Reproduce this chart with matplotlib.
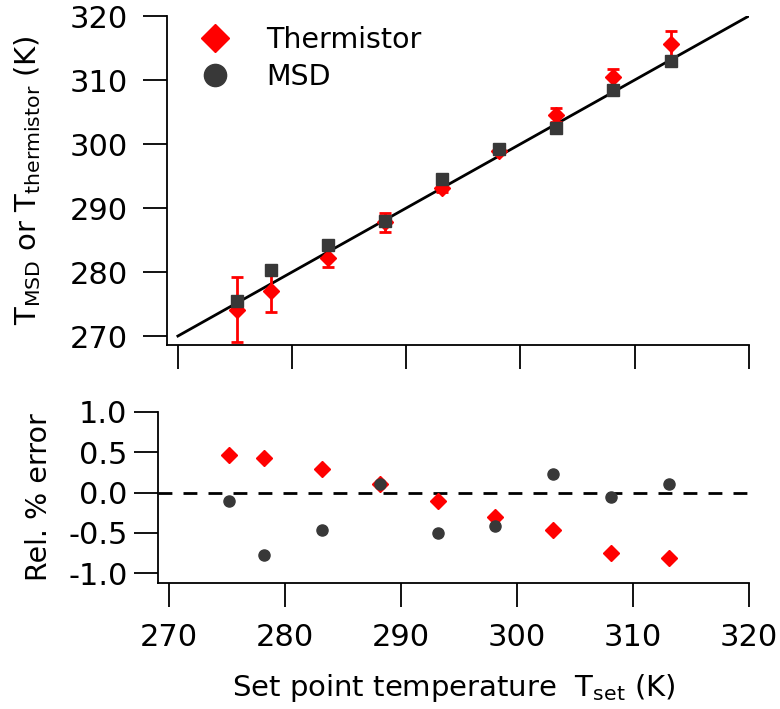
import matplotlib.pyplot as plt
from matplotlib.lines import Line2D
import numpy as np

plt.rcParams['font.family'] = 'DejaVu Sans'
plt.rcParams['axes.unicode_minus'] = False

# set point temperatures (K)
t_set = np.array([275.15, 278.15, 283.15, 288.15, 293.15, 298.15, 303.15, 308.15, 313.15])

# measured temperatures (K)
t_therm = np.array([274.1, 277.0, 282.2, 287.8, 293.2, 298.9, 304.6, 310.5, 315.7])
t_therm_err = np.array([5.1, 3.3, 1.4, 1.5, 0.7, 0.5, 1.1, 1.3, 1.9])
t_msd = np.array([275.4, 280.3, 284.3, 287.9, 294.5, 299.3, 302.5, 308.4, 312.9])

# relative error (%)
rel_therm = np.array([0.47, 0.43, 0.29, 0.10, -0.10, -0.31, -0.47, -0.75, -0.81])
rel_msd = np.array([-0.10, -0.78, -0.46, 0.10, -0.50, -0.41, 0.23, -0.05, 0.10])

fit_x = np.array([270, 320])

red = '#ff0000'
grey = '#383838'

fig = plt.figure(figsize=(7.8, 7.09), dpi=100)
ax1 = fig.add_axes([0.214, 0.5134, 0.746, 0.464])
ax2 = fig.add_axes([0.2026, 0.1777, 0.7574, 0.2412])

# top panel
ax1.plot(fit_x, fit_x, color='black', lw=2, zorder=1)
ax1.errorbar(t_set, t_therm, yerr=t_therm_err, fmt='D', color=red, ms=8.6,
             mec=red, ecolor=red, elinewidth=2, capsize=4.3, capthick=2, zorder=2)
ax1.plot(t_set, t_msd, 's', color=grey, ms=9, zorder=3)

ax1.set_xlim(269.04, 320)
ax1.set_ylim(268.6, 320)
ax1.set_xticks([270, 280, 290, 300, 310, 320])
ax1.set_xticklabels([])
ax1.set_yticks([270, 280, 290, 300, 310, 320])
ax1.set_ylabel(r'T$_{\mathrm{MSD}}$ or T$_{\mathrm{thermistor}}$ (K)', fontsize=21, labelpad=19)

handles = [Line2D([], [], marker='D', ls='none', color=red, ms=14),
           Line2D([], [], marker='o', ls='none', color=grey, ms=16)]
ax1.legend(handles, ['Thermistor', 'MSD'], loc='upper left', bbox_to_anchor=(0.0, 1.03),
           frameon=False, fontsize=20.5, handletextpad=0.8, labelspacing=0.3,
           borderaxespad=0.3)

# bottom panel
ax2.axhline(0, color='black', lw=2, ls=(0, (5, 4)), zorder=1)
ax2.plot(t_set, rel_therm, 'D', color=red, ms=8.6, zorder=2)
ax2.plot(t_set, rel_msd, 'o', color=grey, ms=8, zorder=3)

ax2.set_xlim(269.04, 320)
ax2.set_ylim(-1.124, 1.0)
ax2.set_xticks([270, 280, 290, 300, 310, 320])
ax2.set_yticks([-1.0, -0.5, 0.0, 0.5, 1.0])
ax2.set_yticklabels(['-1.0', '-0.5', '0.0', '0.5', '1.0'])
ax2.set_ylabel('Rel. % error', fontsize=20.5, labelpad=11)
ax2.set_xlabel(r'Set point temperature  T$_{\mathrm{set}}$ (K)', fontsize=21, labelpad=14)

for ax in (ax1, ax2):
    ax.spines['top'].set_visible(False)
    ax.spines['right'].set_visible(False)
    ax.spines['left'].set_linewidth(1.3)
    ax.spines['bottom'].set_linewidth(1.3)
    ax.tick_params(direction='out', length=17, width=1.3, labelsize=22)

ax1.tick_params(axis='y', pad=11)
ax2.tick_params(axis='y', pad=5)
ax2.tick_params(axis='x', pad=12)

fig.savefig('out.png', dpi=100)
